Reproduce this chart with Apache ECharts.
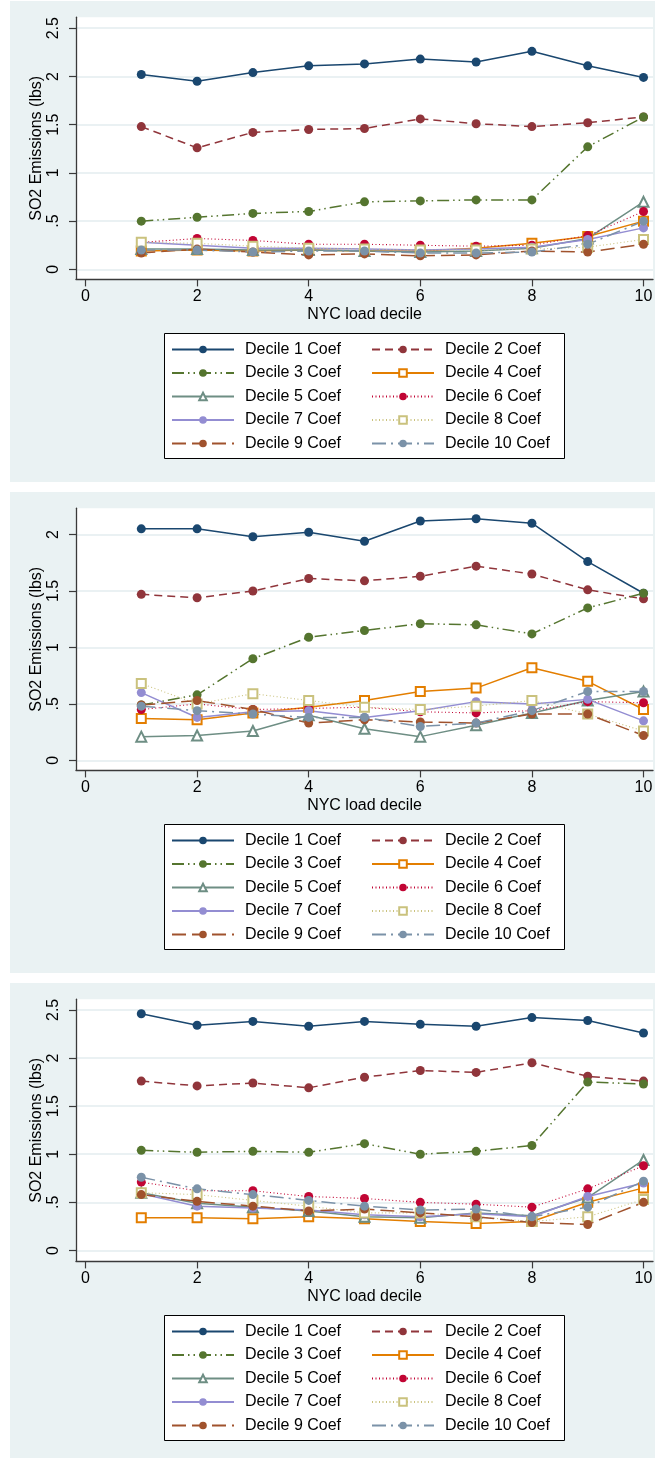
<!DOCTYPE html>
<html><head><meta charset="utf-8">
<script src="https://cdn.jsdelivr.net/npm/echarts@6/dist/echarts.min.js"></script>
<style>html,body{margin:0;padding:0;background:#fff}#c{width:655px;height:1458px}</style>
</head><body><div id="c"></div>
<script>
// ---------- data ----------
const deciles = [1, 2, 3, 4, 5, 6, 7, 8, 9, 10];
const seriesNames = ['Decile 1 Coef','Decile 2 Coef','Decile 3 Coef','Decile 4 Coef','Decile 5 Coef',
                     'Decile 6 Coef','Decile 7 Coef','Decile 8 Coef','Decile 9 Coef','Decile 10 Coef'];
const xTicks = [0, 2, 4, 6, 8, 10];
const xTitle = 'NYC load decile';
const yTitle = 'SO2 Emissions (lbs)';
const yTicksA = [0, 0.5, 1, 1.5, 2, 2.5];
const yTickLabelsA = ['0', '.5', '1', '1.5', '2', '2.5'];
const yTicksB = [0, 0.5, 1, 1.5, 2];
const yTickLabelsB = ['0', '.5', '1', '1.5', '2'];

// panel 1
const p1d1  = [2.02, 1.95, 2.04, 2.11, 2.13, 2.18, 2.15, 2.26, 2.11, 1.99];
const p1d2  = [1.48, 1.26, 1.42, 1.45, 1.46, 1.56, 1.51, 1.48, 1.52, 1.58];
const p1d3  = [0.50, 0.54, 0.58, 0.60, 0.70, 0.71, 0.72, 0.72, 1.27, 1.58];
const p1d4  = [0.19, 0.20, 0.19, 0.20, 0.19, 0.19, 0.22, 0.27, 0.34, 0.50];
const p1d5  = [0.21, 0.21, 0.20, 0.20, 0.19, 0.18, 0.19, 0.22, 0.32, 0.70];
const p1d6  = [0.28, 0.32, 0.30, 0.26, 0.26, 0.25, 0.24, 0.25, 0.35, 0.60];
const p1d7  = [0.28, 0.25, 0.22, 0.22, 0.21, 0.20, 0.21, 0.23, 0.31, 0.43];
const p1d8  = [0.28, 0.27, 0.24, 0.22, 0.21, 0.20, 0.20, 0.21, 0.23, 0.31];
const p1d9  = [0.17, 0.21, 0.18, 0.15, 0.16, 0.14, 0.15, 0.19, 0.18, 0.26];
const p1d10 = [0.20, 0.20, 0.18, 0.19, 0.19, 0.17, 0.17, 0.18, 0.26, 0.50];
// panel 2
const p2d1  = [2.05, 2.05, 1.98, 2.02, 1.94, 2.12, 2.14, 2.10, 1.76, 1.48];
const p2d2  = [1.47, 1.44, 1.50, 1.61, 1.59, 1.63, 1.72, 1.65, 1.51, 1.43];
const p2d3  = [0.49, 0.58, 0.90, 1.09, 1.15, 1.21, 1.20, 1.12, 1.35, 1.48];
const p2d4  = [0.37, 0.36, 0.42, 0.47, 0.53, 0.61, 0.64, 0.82, 0.70, 0.45];
const p2d5  = [0.21, 0.22, 0.26, 0.40, 0.28, 0.21, 0.31, 0.42, 0.53, 0.61];
const p2d6  = [0.45, 0.50, 0.45, 0.46, 0.47, 0.43, 0.42, 0.44, 0.52, 0.51];
const p2d7  = [0.60, 0.38, 0.43, 0.44, 0.38, 0.44, 0.52, 0.50, 0.54, 0.35];
const p2d8  = [0.68, 0.50, 0.59, 0.53, 0.47, 0.45, 0.48, 0.53, 0.41, 0.26];
const p2d9  = [0.49, 0.53, 0.45, 0.33, 0.36, 0.34, 0.33, 0.41, 0.41, 0.22];
const p2d10 = [0.48, 0.44, 0.41, 0.38, 0.38, 0.30, 0.33, 0.44, 0.61, 0.61];
// panel 3
const p3d1  = [2.46, 2.34, 2.38, 2.33, 2.38, 2.35, 2.33, 2.42, 2.39, 2.26];
const p3d2  = [1.76, 1.71, 1.74, 1.69, 1.80, 1.87, 1.85, 1.95, 1.81, 1.76];
const p3d3  = [1.04, 1.02, 1.03, 1.02, 1.11, 1.00, 1.03, 1.09, 1.75, 1.73];
const p3d4  = [0.34, 0.34, 0.33, 0.35, 0.33, 0.30, 0.28, 0.30, 0.50, 0.65];
const p3d5  = [0.60, 0.49, 0.45, 0.41, 0.35, 0.34, 0.39, 0.36, 0.55, 0.94];
const p3d6  = [0.71, 0.62, 0.62, 0.56, 0.54, 0.50, 0.48, 0.45, 0.64, 0.88];
const p3d7  = [0.59, 0.46, 0.44, 0.42, 0.37, 0.35, 0.38, 0.35, 0.56, 0.70];
const p3d8  = [0.60, 0.58, 0.52, 0.46, 0.39, 0.39, 0.35, 0.30, 0.35, 0.53];
const p3d9  = [0.58, 0.51, 0.46, 0.41, 0.43, 0.39, 0.35, 0.29, 0.27, 0.50];
const p3d10 = [0.76, 0.64, 0.58, 0.52, 0.46, 0.42, 0.43, 0.35, 0.45, 0.72];

const panelSeries = [
  [p1d1, p1d2, p1d3, p1d4, p1d5, p1d6, p1d7, p1d8, p1d9, p1d10],
  [p2d1, p2d2, p2d3, p2d4, p2d5, p2d6, p2d7, p2d8, p2d9, p2d10],
  [p3d1, p3d2, p3d3, p3d4, p3d5, p3d6, p3d7, p3d8, p3d9, p3d10]
];
const panelYTicks = [yTicksA, yTicksB, yTicksA];
const panelYTickLabels = [yTickLabelsA, yTickLabelsB, yTickLabelsA];

// ---------- styles / layout ----------
const FONT = '"Liberation Sans", Arial, Helvetica, sans-serif';
const styles = [
  {color: '#1A476F', symbol: 'circle',        size: 9,  dash: 'solid', w: 1.5},
  {color: '#90353B', symbol: 'circle',        size: 9,  dash: [8, 5], w: 1.5},
  {color: '#55752F', symbol: 'circle',        size: 9,  dash: [12, 4, 1.5, 4, 1.5, 4], w: 1.5},
  {color: '#E37E00', symbol: 'emptyRect',     size: 9,  dash: 'solid', w: 1.5},
  {color: '#6E8E84', symbol: 'emptyTriangle', size: 10, dash: 'solid', w: 1.5},
  {color: '#C10534', symbol: 'circle',        size: 9,  dash: [1, 2.5], w: 1.1},
  {color: '#938DD2', symbol: 'circle',        size: 9,  dash: 'solid', w: 1.5},
  {color: '#CAC27E', symbol: 'emptyRect',     size: 9,  dash: [1, 2.5], w: 1.1},
  {color: '#A0522D', symbol: 'circle',        size: 9,  dash: [14, 6], w: 1.5},
  {color: '#7B92A8', symbol: 'circle',        size: 9,  dash: [14, 5, 2, 5], w: 1.5}
];
const offsets = [0, 491, 982];
const yMins = [-0.104, -0.089, -0.114];
const yMaxs = [2.614, 2.233, 2.611];
const axisColor = '#3a3a3a';

const grids = [], xAxes = [], yAxes = [], series = [], legends = [], graphics = [];
offsets.forEach((off, p) => {
  graphics.push({type: 'rect', z: -10, silent: true,
    shape: {x: 10, y: 1 + off, width: 645, height: 481}, style: {fill: '#EAF2F3'}});
  graphics.push({type: 'rect', z: -8, silent: true,
    shape: {x: 164.5, y: 333.5 + off, width: 400, height: 125},
    style: {fill: '#fff', stroke: '#000', lineWidth: 1}});
  grids.push({left: 76, top: 17.2 + off, width: 577, height: 262.2, show: true,
    backgroundColor: '#fff', borderWidth: 0, containLabel: false, outerBoundsMode: 'none'});
  const yt = panelYTicks[p], yl = panelYTickLabels[p];
  xAxes.push({gridIndex: p, type: 'value', min: -0.17, max: 10.17,
    name: xTitle, nameLocation: 'middle', nameGap: 27, nameMoveOverlap: false,
    nameTextStyle: {fontSize: 16, color: '#000', fontFamily: FONT},
    axisLine: {show: true, onZero: false, lineStyle: {color: axisColor, width: 1.3}},
    axisTick: {show: true, length: 7, customValues: xTicks, lineStyle: {color: axisColor, width: 1.2}},
    axisLabel: {customValues: xTicks, margin: 9, fontSize: 16, color: '#000', fontFamily: FONT},
    splitLine: {show: false}});
  yAxes.push({gridIndex: p, type: 'value', min: yMins[p], max: yMaxs[p],
    name: yTitle, nameLocation: 'middle', nameRotate: 90, nameGap: 31, nameMoveOverlap: false,
    nameTextStyle: {fontSize: 16, color: '#000', fontFamily: FONT},
    axisLine: {show: true, onZero: false, lineStyle: {color: axisColor, width: 1.3}},
    axisTick: {show: true, length: 7, customValues: yt, lineStyle: {color: axisColor, width: 1.2}},
    axisLabel: {customValues: yt, rotate: 90, margin: 14, fontSize: 16, color: '#000', fontFamily: FONT,
      formatter: v => { const i = yt.findIndex(t => Math.abs(t - v) < 1e-9); return i >= 0 ? yl[i] : ''; }},
    splitLine: {show: true, lineStyle: {color: '#E3EDEF', width: 1.5}}});
  panelSeries[p].forEach((vals, k) => {
    const st = styles[k];
    const hollow = st.symbol.indexOf('empty') === 0;
    series.push({
      name: seriesNames[k], type: 'line', xAxisIndex: p, yAxisIndex: p,
      data: deciles.map((x, i) => [x, vals[i]]),
      symbol: st.symbol, symbolSize: st.size, showAllSymbol: true,
      lineStyle: {color: st.color, width: st.w, type: st.dash},
      itemStyle: hollow ? {color: st.color, borderColor: st.color, borderWidth: 1.5} : {color: st.color},
      emphasis: {disabled: true}, silent: true
    });
  });
  const legendCommon = {orient: 'vertical', top: 341.5 + off, itemWidth: 62, itemHeight: 9.5, itemGap: 7.5,
    padding: 0, selectedMode: false,
    textStyle: {fontSize: 16, color: '#000', fontFamily: FONT, lineHeight: 16, padding: [0, 0, 0, 6]}};
  legends.push(Object.assign({}, legendCommon, {left: 171, data: [0, 2, 4, 6, 8].map(i => seriesNames[i])}));
  legends.push(Object.assign({}, legendCommon, {left: 371, data: [1, 3, 5, 7, 9].map(i => seriesNames[i])}));
});

const chart = echarts.init(document.getElementById('c'), null, {renderer: 'canvas'});
chart.setOption({
  animation: false,
  backgroundColor: '#fff',
  graphic: graphics,
  grid: grids, xAxis: xAxes, yAxis: yAxes, legend: legends, series: series
});
</script></body></html>
